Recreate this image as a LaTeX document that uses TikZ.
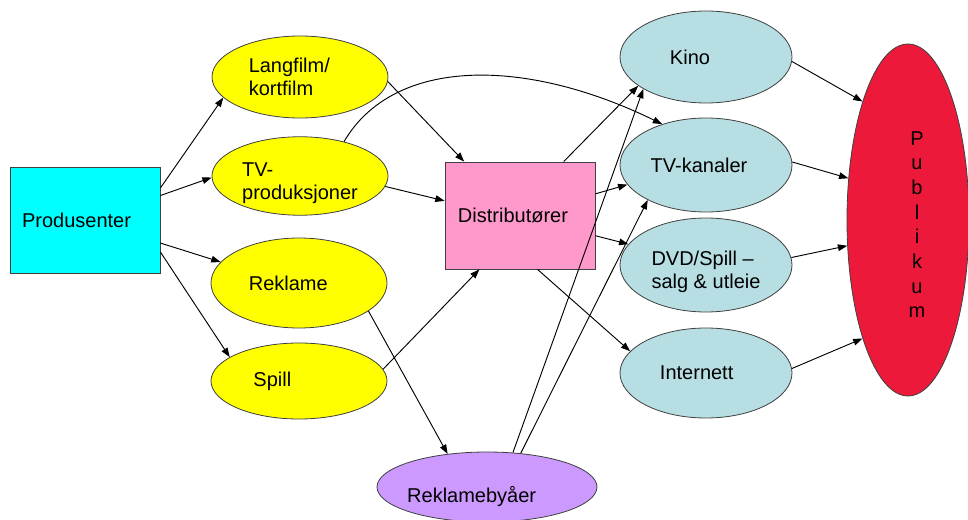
\documentclass[tikz,border=0pt]{standalone}
\usepackage{fontspec}
\setmainfont{Liberation Sans}
\usetikzlibrary{shapes.geometric,arrows.meta}
\definecolor{cprod}{RGB}{0,255,255}
\definecolor{cyel}{RGB}{255,255,0}
\definecolor{cpink}{RGB}{255,153,204}
\definecolor{cblue}{RGB}{183,222,226}
\definecolor{cpurp}{RGB}{204,153,255}
\definecolor{cred}{RGB}{237,25,58}
\begin{document}
\begin{tikzpicture}[x=0.75pt,y=-0.75pt,
  every node/.style={font=\fontsize{15}{17.5}\selectfont},
  boxnode/.style={draw=black!75,line width=0.6pt,rectangle,inner sep=0pt,minimum width=112.5pt},
  ellnode/.style={draw=black!75,line width=0.6pt,ellipse,inner sep=0pt,align=left},
  arr/.style={line width=0.7pt,-{Triangle[length=7pt,width=5pt]}},
  ln/.style={line width=0.7pt}
  ]
\useasboundingbox (0,0) rectangle (968,520);
% nodes
\node[boxnode,fill=cprod,minimum height=79.5pt] (prod) at (85,220) {Produsenter\hspace*{12.75pt}};
\node[ellnode,fill=cyel,minimum width=132pt,minimum height=61.5pt] (lang) at (300,77) {Langfilm/\hspace*{16pt}\\kortfilm};
\node[ellnode,fill=cyel,minimum width=132pt,minimum height=58.5pt] (tvp) at (300,176) {\rule{0pt}{21pt}TV-\\produksjoner};
\node[ellnode,fill=cyel,minimum width=132pt,minimum height=67.5pt] (rek) at (299,283) {Reklame\hspace*{16pt}};
\node[ellnode,fill=cyel,minimum width=132pt,minimum height=57pt] (spill) at (299,381) {Spill\hspace*{40pt}};
\node[boxnode,fill=cpink,minimum height=80.25pt] (dist) at (520,215.5) {Distributører\hspace*{10.5pt}};
\node[ellnode,fill=cpurp,minimum width=165pt,minimum height=52.5pt] (rby) at (487,487) {\hspace*{-23pt}\raisebox{0pt}[26pt][3pt]{Reklamebyåer}};
\node[ellnode,fill=cblue,minimum width=129pt,minimum height=69pt] (kino) at (706,57) {Kino\hspace*{24pt}};
\node[ellnode,fill=cblue,minimum width=129pt,minimum height=70.5pt] (tvk) at (706,165) {TV-kanaler\hspace*{10.5pt}};
\node[ellnode,fill=cblue,minimum width=129pt,minimum height=70.5pt] (dvd) at (706,265) {\rule{0pt}{21pt}DVD/Spill –\\salg \& utleie};
\node[ellnode,fill=cblue,minimum width=129pt,minimum height=67.5pt] (inet) at (706,373) {Internett\hspace*{14pt}};
\node[ellnode,fill=cred,minimum width=91.5pt,minimum height=264pt] (pub) at (908,220)
  {\hspace*{13.5pt}\fontsize{15}{18.5}\selectfont\begin{tabular}{@{}c@{}}\rule{0pt}{22.7pt}P\\u\\b\\l\\i\\k\\u\\m\end{tabular}};
% connectors
\draw[arr] (prod.23.7) -- (lang.195.5);
\draw[arr] (prod.18.4) -- (tvp.181.3);
\draw[arr] (prod.-17.7) -- (rek.165.1);
\draw[arr] (prod.-23.1) -- (spill.161.3);
\draw[arr] (lang.-3) -- (dist.136.3);
\draw[arr] (tvp.-7.8) -- (dist.169.2);
\draw[arr] (spill.8.6) -- (dist.233.7);
\draw[arr] (tvp.38.7) .. controls +(50,-85) and +(-137,-67) .. (tvk.137.7);
\draw[arr] (rek.-22.9) -- (rby.140.6);
\draw[arr] (rby.53.7) -- (kino.207.7);
\draw[arr] (rby.45.9) -- (tvk.211.1);
\draw[arr] (dist.51.9) -- (kino.203.8);
\draw[arr] (dist.16.7) -- (tvk.194.9);
\draw[arr] (dist.-15.3) -- (dvd.165.8);
\draw[arr] (dist.-72.7) -- (inet.164.9);
\draw[arr] (kino.-3.3) -- (pub.111.3);
\draw[arr] (tvk.2) -- (pub.145.7);
\draw[arr] (dvd.5) -- (pub.203.2);
\draw[arr] (inet.3) -- (pub.249.1);
\end{tikzpicture}
\end{document}
